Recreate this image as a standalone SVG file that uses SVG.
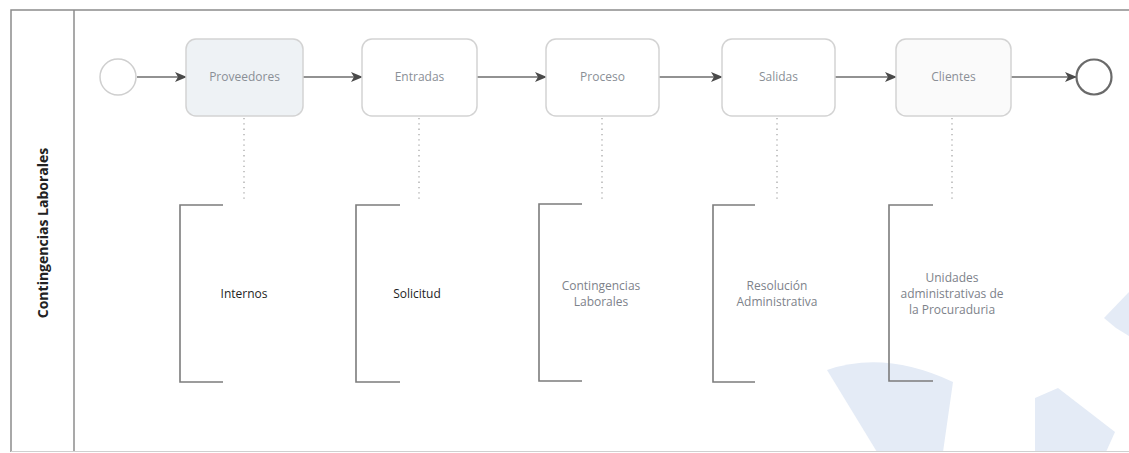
<svg xmlns="http://www.w3.org/2000/svg" width="1129" height="453" viewBox="0 0 1129 453">
  <defs>
    <marker id="arrow" viewBox="0 0 12 12" refX="11" refY="6" markerWidth="12" markerHeight="12" markerUnits="userSpaceOnUse" orient="auto">
      <path d="M0,1 L12,6 L0,11 L3,6 Z" fill="#4a4a4a"/>
    </marker>
    <style>
      .frame { fill: none; stroke: #8c8c8c; stroke-width: 1.5; }
      .frame-light { fill: none; stroke: #d0d0d0; stroke-width: 1; }
      .task { stroke: #d3d3d3; stroke-width: 1.5; }
      .task-label { font-family: "Open Sans", "Noto Sans", sans-serif; font-size: 12px; fill: #8a8f96; text-anchor: middle; }
      .flow { fill: none; stroke: #6e6e6e; stroke-width: 1.5; marker-end: url(#arrow); }
      .assoc { fill: none; stroke: #a8a8a8; stroke-width: 1.3; stroke-dasharray: 1.3 4; }
      .bracket { fill: none; stroke: #7c7c7c; stroke-width: 1.6; }
      .note { font-family: "Open Sans", "Noto Sans", sans-serif; font-size: 12px; text-anchor: middle; fill: #7d828a; }
      .note-dark { fill: #1e1e1e; }
      .pool-label { font-family: "Open Sans", "Noto Sans", sans-serif; font-size: 14px; font-weight: bold; fill: #222; text-anchor: middle; }
      .mark { fill: #e4ebf6; }
    </style>
  </defs>

  <rect x="0" y="0" width="1129" height="453" fill="#ffffff"/>

  <!-- faint background emblem -->
  <g id="emblem">
    <path class="mark" d="M827,370 Q885,350 953,382 L943,452 L877,452 Z"/>
    <path class="mark" d="M1035,398 L1058,388 L1115,432 L1106,452 L1035,452 Z"/>
    <path class="mark" d="M1104,318 L1129,292 L1129,336 L1116,328 Z"/>
  </g>

  <!-- pool and lane -->
  <g id="pool">
    <path class="frame" d="M1129,10 H11 V452"/>
    <line class="frame" x1="74" y1="10" x2="74" y2="452"/>
    <line class="frame-light" x1="11" y1="451.5" x2="1129" y2="451.5"/>
    <text class="pool-label" transform="translate(48,233) rotate(-90)">Contingencias Laborales</text>
  </g>

  <!-- connectors -->
  <g id="connectors">
    <line class="flow" x1="137" y1="77" x2="186" y2="77"/>
    <line class="flow" x1="303" y1="77" x2="362" y2="77"/>
    <line class="flow" x1="477" y1="77" x2="546" y2="77"/>
    <line class="flow" x1="659" y1="77" x2="722" y2="77"/>
    <line class="flow" x1="835" y1="77" x2="896" y2="77"/>
    <line class="flow" x1="1011" y1="77" x2="1076" y2="77"/>
    <line class="assoc" x1="244" y1="118" x2="244" y2="200"/>
    <line class="assoc" x1="419" y1="118" x2="419" y2="200"/>
    <line class="assoc" x1="602" y1="118" x2="602" y2="200"/>
    <line class="assoc" x1="777" y1="118" x2="777" y2="200"/>
    <line class="assoc" x1="952" y1="118" x2="952" y2="200"/>
  </g>

  <!-- events -->
  <g id="start-event">
    <circle cx="118" cy="77" r="18" fill="#ffffff" stroke="#cfcfcf" stroke-width="1.5"/>
  </g>
  <g id="end-event">
    <circle cx="1094" cy="77" r="17.5" fill="#ffffff" stroke="#6a6a6a" stroke-width="2.2"/>
  </g>

  <!-- tasks -->
  <g id="task-proveedores">
    <rect class="task" x="186" y="39" width="117" height="77" rx="10" fill="#eef2f5"/>
    <text class="task-label" x="244.5" y="81">Proveedores</text>
  </g>
  <g id="task-entradas">
    <rect class="task" x="362" y="39" width="115" height="77" rx="10" fill="#ffffff"/>
    <text class="task-label" x="419.5" y="81">Entradas</text>
  </g>
  <g id="task-proceso">
    <rect class="task" x="546" y="39" width="113" height="77" rx="10" fill="#ffffff"/>
    <text class="task-label" x="602.5" y="81">Proceso</text>
  </g>
  <g id="task-salidas">
    <rect class="task" x="722" y="39" width="113" height="77" rx="10" fill="#ffffff"/>
    <text class="task-label" x="778.5" y="81">Salidas</text>
  </g>
  <g id="task-clientes">
    <rect class="task" x="896" y="39" width="115" height="77" rx="10" fill="#fafafa"/>
    <text class="task-label" x="953.5" y="81">Clientes</text>
  </g>

  <!-- text annotations -->
  <g id="note-internos">
    <path class="bracket" d="M223,205 H180 V382 H223"/>
    <text class="note note-dark" x="244" y="298">Internos</text>
  </g>
  <g id="note-solicitud">
    <path class="bracket" d="M400,205 H356 V382 H400"/>
    <text class="note note-dark" x="417" y="298">Solicitud</text>
  </g>
  <g id="note-contingencias">
    <path class="bracket" d="M582,204 H539 V381 H582"/>
    <text class="note" x="601" y="290">Contingencias</text>
    <text class="note" x="601" y="306">Laborales</text>
  </g>
  <g id="note-resolucion">
    <path class="bracket" d="M755,205 H713 V382 H755"/>
    <text class="note" x="777" y="290">Resolución</text>
    <text class="note" x="777" y="306">Administrativa</text>
  </g>
  <g id="note-unidades">
    <path class="bracket" d="M933,205 H889 V381 H933"/>
    <text class="note" x="952" y="282">Unidades</text>
    <text class="note" x="952" y="298">administrativas de</text>
    <text class="note" x="952" y="314">la Procuraduria</text>
  </g>
</svg>
